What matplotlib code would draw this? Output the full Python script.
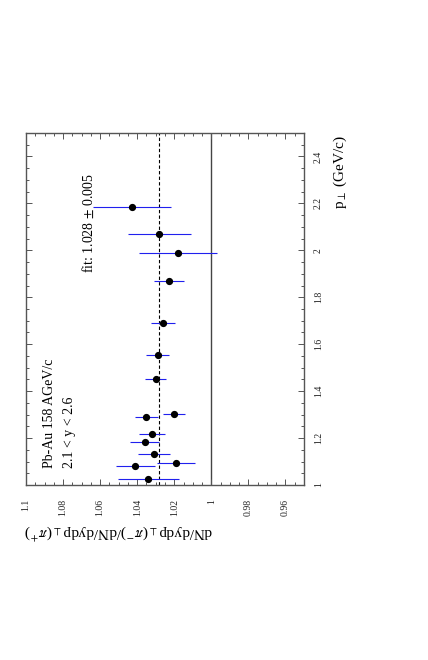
import numpy as np
import matplotlib
matplotlib.use("Agg")
import matplotlib.pyplot as plt
from matplotlib.ticker import MultipleLocator, FixedLocator

plt.rcParams['font.family'] = ['Liberation Serif', 'DejaVu Serif']
plt.rcParams['mathtext.fontset'] = 'stix'

# pi-/pi+ ratio vs p_perp (plot is drawn turned by 90 degrees, like the original)
pt = [1.027, 1.081, 1.092, 1.133, 1.183, 1.216, 1.289, 1.303,
      1.452, 1.556, 1.689, 1.869, 1.987, 2.069, 2.186]
ratio = [1.034, 1.041, 1.019, 1.031, 1.036, 1.032, 1.035, 1.020,
         1.030, 1.029, 1.026, 1.023, 1.018, 1.028, 1.043]
ratio_err = [0.0164, 0.0104, 0.0102, 0.0087, 0.0080, 0.0071, 0.0063, 0.0060,
             0.0058, 0.0060, 0.0064, 0.0080, 0.0210, 0.0170, 0.0210]
fit_value = 1.028
fit_err = 0.005

ratio_ticks = [1.1, 1.08, 1.06, 1.04, 1.02, 1.0, 0.98, 0.96]
ratio_ticklabels = ["1.1", "1.08", "1.06", "1.04", "1.02", "1", "0.98", "0.96"]
pt_ticks = [1.0, 1.2, 1.4, 1.6, 1.8, 2.0, 2.2, 2.4]
pt_ticklabels = ["1", "1.2", "1.4", "1.6", "1.8", "2", "2.2", "2.4"]

fig = plt.figure(figsize=(4.28, 6.6), dpi=100)
ax = fig.add_axes([26 / 428, 1 - 485 / 660, 278 / 428, 352 / 660])

ax.axvline(1.0, color="#444444", lw=1.0, zorder=1)
ax.axvline(fit_value, color="black", lw=0.8, ls=(0, (3, 2)), zorder=1)
ax.errorbar(ratio, pt, xerr=ratio_err, fmt="none", ecolor="#2020ee",
            elinewidth=0.8, capsize=0, zorder=2)
ax.plot(ratio, pt, "o", color="black", markersize=4.2, zorder=3)

ax.set_xlim(1.1, 0.95)
ax.set_ylim(1.0, 2.5)

ax.xaxis.set_major_locator(FixedLocator(ratio_ticks))
ax.set_xticklabels(ratio_ticklabels)
ax.xaxis.set_minor_locator(MultipleLocator(0.005))
ax.yaxis.set_major_locator(FixedLocator(pt_ticks))
ax.set_yticklabels(pt_ticklabels)
ax.yaxis.set_minor_locator(MultipleLocator(0.05))

ax.tick_params(which="both", direction="in", top=True, bottom=True,
               left=True, right=True, color="#555555", width=0.7)
ax.tick_params(which="major", length=4)
ax.tick_params(which="minor", length=2)
ax.tick_params(axis="x", labelsize=7, labelrotation=90, pad=10,
               labelcolor="#222222")
ax.tick_params(axis="y", labelsize=7, labelrotation=90, pad=7,
               labelleft=False, labelright=True, labelcolor="#222222")
for lbl in ax.get_yticklabels():
    lbl.set_va("center")
for sp in ax.spines.values():
    sp.set_color("#555555")
    sp.set_linewidth(1.0)

ax.text(0.223, 0.602, f"fit: {fit_value:.3f} $\\pm$ {fit_err:.3f}",
        transform=ax.transAxes, rotation=90, rotation_mode="anchor",
        ha="left", va="center", fontsize=10)
ax.text(0.086, 0.048, "Pb-Au 158 AGeV/c", transform=ax.transAxes,
        rotation=90, rotation_mode="anchor", ha="left", va="center", fontsize=10)
ax.text(0.155, 0.048, "2.1 < y < 2.6", transform=ax.transAxes,
        rotation=90, rotation_mode="anchor", ha="left", va="center", fontsize=10)

ax.text(1.129, 0.995, r"p$_{\perp}$ (GeV/c)", transform=ax.transAxes,
        rotation=90, rotation_mode="anchor", ha="right", va="center", fontsize=11)
ax.text(0.673, -0.134,
        r"dN/dydp$_{\perp}$($\pi^{-}$)/dN/dydp$_{\perp}$($\pi^{+}$)",
        transform=ax.transAxes, rotation=180, rotation_mode="anchor",
        ha="left", va="center", fontsize=11)

fig.savefig("out.png", dpi=100)
